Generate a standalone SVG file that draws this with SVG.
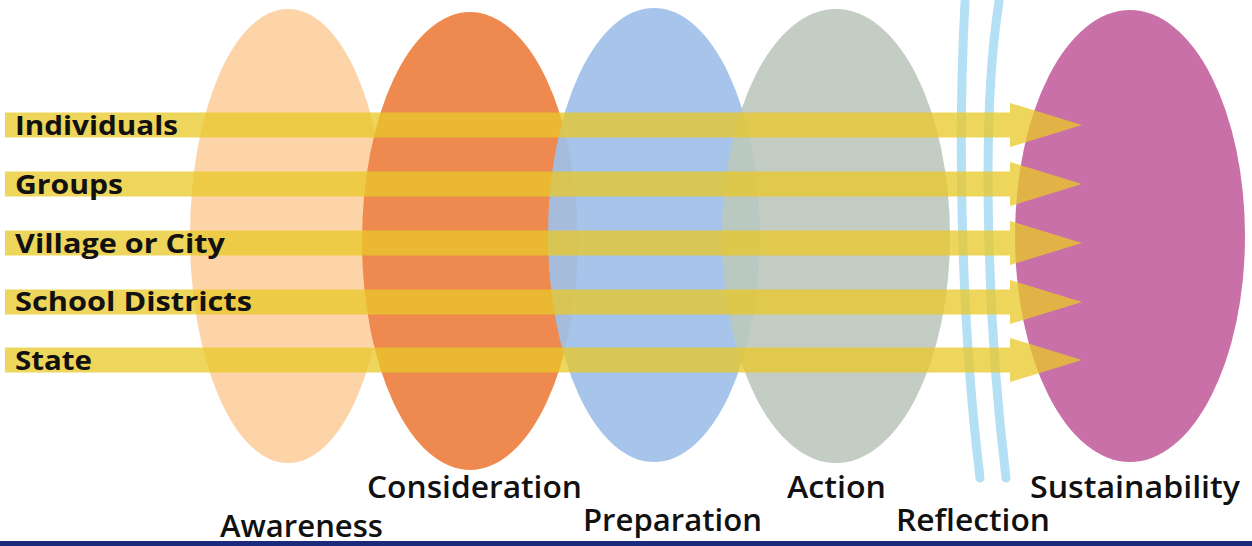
<svg xmlns="http://www.w3.org/2000/svg" width="1252" height="546" viewBox="0 0 1252 546">
<defs>
<style>
.lbl{font-family:"Open Sans","Liberation Sans",sans-serif;font-weight:700;font-size:27px;fill:#111;}
.stage{font-family:"Open Sans","Liberation Sans",sans-serif;font-weight:600;font-size:31px;fill:#111;}
.arrow{fill:#E8C828;fill-opacity:0.76;}
.refl{fill:none;stroke:#B4E0F5;stroke-width:9;stroke-linecap:round;}
</style>
</defs>
<rect width="1252" height="546" fill="#FFFFFF"/>
<g id="awareness"><ellipse cx="288" cy="236" rx="98" ry="227" fill="#FDD4A8"/></g>
<g id="consideration"><ellipse cx="470" cy="241" rx="108" ry="229" fill="#EE8A4F"/></g>
<g id="preparation"><ellipse cx="654" cy="235" rx="106" ry="227" fill="#A0C0E8" fill-opacity="0.92"/></g>
<g id="action"><ellipse cx="836" cy="236" rx="114" ry="227" fill="#BCC8BE" fill-opacity="0.9"/></g>
<g id="reflection">
<path class="refl" d="M965,2 C957,150 962,330 980,478"/>
<path class="refl" d="M999,2 C980,120 988,330 1006,478"/>
</g>
<g id="sustainability"><ellipse cx="1130" cy="236" rx="115" ry="226" fill="#C970A8"/></g>
<g id="connectors">
<polygon class="arrow" points="5,112.5 1010,112.5 1010,103 1082,125 1010,147 1010,137.5 5,137.5"/>
<polygon class="arrow" points="5,171.5 1010,171.5 1010,162 1082,184 1010,206 1010,196.5 5,196.5"/>
<polygon class="arrow" points="5,230.5 1010,230.5 1010,221 1082,243 1010,265 1010,255.5 5,255.5"/>
<polygon class="arrow" points="5,289.5 1010,289.5 1010,280 1082,302 1010,324 1010,314.5 5,314.5"/>
<polygon class="arrow" points="5,347.5 1010,347.5 1010,338 1082,360 1010,382 1010,372.5 5,372.5"/>
</g>
<g id="levels">
<text class="lbl" x="15" y="135" textLength="163" lengthAdjust="spacingAndGlyphs">Individuals</text>
<text class="lbl" x="15" y="194" textLength="108" lengthAdjust="spacingAndGlyphs">Groups</text>
<text class="lbl" x="15" y="253" textLength="210" lengthAdjust="spacingAndGlyphs">Village or City</text>
<text class="lbl" x="15" y="311" textLength="237" lengthAdjust="spacingAndGlyphs">School Districts</text>
<text class="lbl" x="15" y="370" textLength="77" lengthAdjust="spacingAndGlyphs">State</text>
</g>
<g id="stages">
<text class="stage" x="367" y="498" textLength="215" lengthAdjust="spacingAndGlyphs">Consideration</text>
<text class="stage" x="787" y="498" textLength="99" lengthAdjust="spacingAndGlyphs">Action</text>
<text class="stage" x="1030" y="498" textLength="210" lengthAdjust="spacingAndGlyphs">Sustainability</text>
<text class="stage" x="220" y="537" textLength="163" lengthAdjust="spacingAndGlyphs">Awareness</text>
<text class="stage" x="583" y="531" textLength="179" lengthAdjust="spacingAndGlyphs">Preparation</text>
<text class="stage" x="896" y="531" textLength="154" lengthAdjust="spacingAndGlyphs">Reflection</text>
</g>
<rect x="0" y="541" width="1252" height="5" fill="#1B2A7A"/>
</svg>
